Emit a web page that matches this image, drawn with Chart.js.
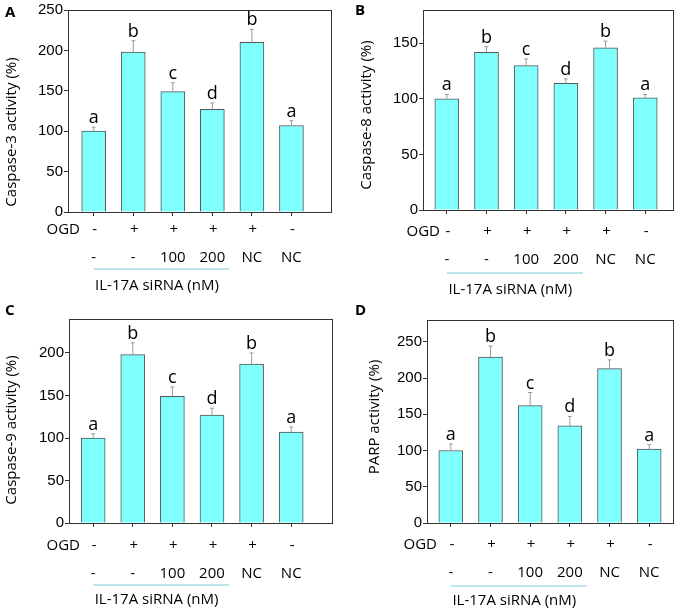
<!DOCTYPE html>
<html>
<head>
<meta charset="utf-8">
<script src="https://cdn.jsdelivr.net/npm/chart.js@4.4.0/dist/chart.umd.min.js"></script>
<style>
body { margin: 0; background: #fff; }
#wrap { position: relative; width: 680px; height: 611px; }
.p { position: absolute; }
</style>
</head>
<body>
<div id="wrap">
  <div class="p" style="left:0;top:0;width:340px;height:300px"><canvas id="cA"></canvas></div>
  <div class="p" style="left:340px;top:0;width:340px;height:300px"><canvas id="cB"></canvas></div>
  <div class="p" style="left:0;top:300px;width:340px;height:311px"><canvas id="cC"></canvas></div>
  <div class="p" style="left:340px;top:300px;width:340px;height:311px"><canvas id="cD"></canvas></div>
</div>
<script>
// groups (x positions 1..6)
var groups = [1, 2, 3, 4, 5, 6];
var ogdRow = ['-', '+', '+', '+', '+', '-'];
var sirnaRow = ['-', '-', '100', '200', 'NC', 'NC'];
var sigLetters = ['a', 'b', 'c', 'd', 'b', 'a'];

var caspase3 = [100, 198, 149, 127, 210, 107];
var caspase3Err = [5, 14, 11, 8, 16, 6];
var caspase8 = [100, 142, 130, 114, 146, 101];
var caspase8Err = [4, 5, 6, 4, 6, 3];
var caspase9 = [100, 198, 149, 127, 187, 107];
var caspase9Err = [5, 14, 11, 8, 13, 6];
var parp = [100, 229, 162, 134, 213, 102];
var parpErr = [9, 15, 18, 13, 12, 6];

var textFont = '"Open Sans", sans-serif';
var tickFont = '"Liberation Sans", Arial, sans-serif';

function makePanel(id, o) {
    var ctx = document.getElementById(id);

    var extras = {
        id: 'extras',
        afterDatasetsDraw: function(chart) {
            var c = chart.ctx, xs = chart.scales.x, ys = chart.scales.y, a = chart.chartArea;
            c.save();
            // error bars + significance letters
            for (var i = 0; i < o.values.length; i++) {
                var px = xs.getPixelForValue(groups[i]);
                var y0 = ys.getPixelForValue(o.values[i]);
                var y1 = ys.getPixelForValue(o.values[i] + o.errs[i]);
                c.strokeStyle = '#9a9a9a';
                c.lineWidth = 1;
                c.beginPath();
                c.moveTo(px, y0);
                c.lineTo(px, y1);
                c.moveTo(px - 2, y1);
                c.lineTo(px + 2, y1);
                c.stroke();
                c.fillStyle = '#000';
                c.font = '18px ' + textFont;
                c.textAlign = 'center';
                c.textBaseline = 'alphabetic';
                c.fillText(sigLetters[i], px, y1 - 4);
            }
            // frame
            c.strokeStyle = '#333';
            c.lineWidth = 1;
            c.strokeRect(a.left + 0.5, a.top + 0.5, a.right - a.left, a.bottom - a.top);
            c.restore();
        },
        afterDraw: function(chart) {
            var c = chart.ctx, xs = chart.scales.x;
            c.save();
            c.fillStyle = '#000';
            c.font = '15px ' + textFont;
            c.textBaseline = 'middle';
            c.textAlign = 'center';
            for (var i = 0; i < groups.length; i++) {
                var px = xs.getPixelForValue(groups[i]);
                c.fillText(ogdRow[i], px + 1, o.ogdY);
                c.fillText(sirnaRow[i], px, o.rowY);
            }
            c.textAlign = 'right';
            c.fillText('OGD', o.ogdX, o.ogdY);
            // underline
            c.strokeStyle = '#a6dbe4';
            c.lineWidth = 1.5;
            c.beginPath();
            c.moveTo(xs.getPixelForValue(1), o.lineY);
            c.lineTo(xs.getPixelForValue(4) + 17, o.lineY);
            c.stroke();
            c.textAlign = 'center';
            c.fillText('IL-17A siRNA (nM)', xs.getPixelForValue(2.6), o.ilY);
            // y title
            c.save();
            c.translate(o.titleX, o.titleY);
            c.rotate(-Math.PI / 2);
            c.font = '15px ' + textFont;
            c.fillText(o.title, 0, 0);
            c.restore();
            // panel letter
            c.font = 'bold 15px ' + textFont;
            c.textAlign = 'left';
            c.fillText(o.letter, o.letterX, o.letterY);
            c.restore();
        }
    };

    return new Chart(ctx, {
        type: 'bar',
        data: {
            datasets: [{
                data: o.values.map(function(v, i) { return { x: groups[i], y: v }; }),
                backgroundColor: '#80ffff',
                borderColor: '#555',
                borderWidth: 1,
                borderSkipped: 'bottom',
                barThickness: 24
            }]
        },
        options: {
            responsive: true,
            maintainAspectRatio: false,
            animation: false,
            layout: { padding: { top: o.padTop, right: o.padRight, left: 0, bottom: 0 } },
            plugins: { legend: { display: false }, tooltip: { enabled: false } },
            scales: {
                x: {
                    type: 'linear',
                    offset: false,
                    min: o.xMin,
                    max: o.xMax,
                    afterBuildTicks: function(s) { s.ticks = groups.map(function(g) { return { value: g }; }); },
                    afterFit: function(s) { s.height = o.xAxisH; },
                    ticks: { callback: function() { return ''; } },
                    grid: { offset: false, drawOnChartArea: false, tickLength: 4, color: '#333' },
                    border: { color: '#333' }
                },
                y: {
                    min: 0,
                    max: o.yMax,
                    afterBuildTicks: function(s) { s.ticks = s.ticks.filter(function(t) { return t.value % 50 === 0; }); },
                    afterFit: function(s) { s.width = o.yAxisW; },
                    ticks: { stepSize: 50, color: '#000', padding: 1, font: { family: tickFont, size: 15 } },
                    grid: { drawOnChartArea: false, tickLength: 4, color: '#333' },
                    border: { color: '#333' }
                }
            }
        },
        plugins: [extras]
    });
}

makePanel('cA', {
    values: caspase3, errs: caspase3Err, yMax: 250, xMin: 0.35, xMax: 7.0,
    yAxisW: 68, padTop: 9, padRight: 9, xAxisH: 88,
    title: 'Caspase-3 activity (%)', titleX: 12, titleY: 132,
    letter: 'A', letterX: 5, letterY: 13,
    ogdX: 80, ogdY: 230, rowY: 258, lineY: 269, ilY: 286
});
makePanel('cB', {
    values: caspase8, errs: caspase8Err, yMax: 180, xMin: 0.4, xMax: 6.7,
    yAxisW: 83, padTop: 7, padRight: 7, xAxisH: 90,
    title: 'Caspase-8 activity (%)', titleX: 27, titleY: 115,
    letter: 'B', letterX: 15, letterY: 11,
    ogdX: 100, ogdY: 232, rowY: 260, lineY: 273, ilY: 290
});
makePanel('cC', {
    values: caspase9, errs: caspase9Err, yMax: 240, xMin: 0.39, xMax: 7.03,
    yAxisW: 69, padTop: 19, padRight: 8, xAxisH: 88,
    title: 'Caspase-9 activity (%)', titleX: 12, titleY: 130,
    letter: 'C', letterX: 5, letterY: 11,
    ogdX: 80, ogdY: 246, rowY: 274, lineY: 285, ilY: 300
});
makePanel('cD', {
    values: parp, errs: parpErr, yMax: 280, xMin: 0.4, xMax: 6.6,
    yAxisW: 87, padTop: 20, padRight: 7, xAxisH: 88,
    title: 'PARP activity (%)', titleX: 35, titleY: 117,
    letter: 'D', letterX: 15, letterY: 11,
    ogdX: 97, ogdY: 245, rowY: 273, lineY: 286, ilY: 301
});
</script>
</body>
</html>
